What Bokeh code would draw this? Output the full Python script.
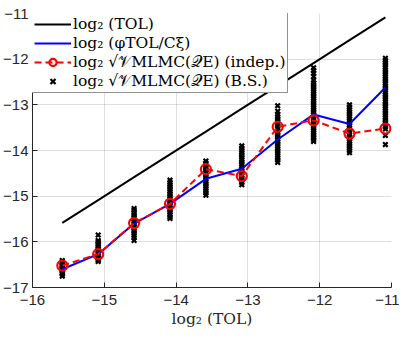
from bokeh.plotting import figure
from bokeh.models import Range1d, Legend, LegendItem, FixedTicker, ColumnDataSource
from bokeh.embed import file_html
from bokeh.resources import INLINE

# ---- data ----
log2_tol = [-15.585, -15.085, -14.585, -14.085, -13.585, -13.085, -12.585, -12.085, -11.585, -11.085]
phi_tol_over_c = [-16.60, -16.27, -15.60, -15.17, -14.62, -14.40, -13.76, -13.21, -13.42, -12.62]
var_indep = [-16.52, -16.27, -15.59, -15.17, -14.41, -14.56, -13.48, -13.34, -13.63, -13.52]

bs_0 = [-16.41, -16.44, -16.47, -16.50, -16.53, -16.56, -16.59, -16.62, -16.65, -16.68, -16.71, -16.75]
bs_1 = [-15.85, -15.97, -16.00, -16.04, -16.08, -16.12, -16.16, -16.20, -16.24, -16.28, -16.32, -16.36, -16.40, -16.43]
bs_2 = [-15.27, -15.31, -15.36, -15.41, -15.46, -15.51, -15.56, -15.61, -15.66, -15.71, -15.76, -15.81, -15.86, -15.91, -15.97]
bs_3 = [-14.65, -14.70, -14.75, -14.80, -14.85, -14.90, -14.95, -15.00, -15.05, -15.10, -15.15, -15.20, -15.25, -15.30, -15.35, -15.40, -15.45, -15.49]
bs_4 = [-14.23, -14.28, -14.33, -14.38, -14.43, -14.48, -14.53, -14.58, -14.63, -14.68, -14.73, -14.78, -14.83, -14.88, -14.93, -14.98]
bs_5 = [-13.90, -13.95, -14.00, -14.05, -14.10, -14.15, -14.20, -14.25, -14.30, -14.35, -14.40, -14.45, -14.50, -14.55, -14.60, -14.65, -14.70, -14.75]
bs_6 = [-13.02, -13.14, -13.21, -13.26, -13.31, -13.36, -13.41, -13.46, -13.51, -13.56, -13.61, -13.66, -13.71, -13.76, -13.81, -13.86, -13.91, -13.96, -14.01, -14.06, -14.11, -14.16, -14.21, -14.26]
bs_7 = [-12.19, -12.25, -12.31, -12.38, -12.46, -12.52, -12.56, -12.61, -12.66, -12.71, -12.76, -12.81, -12.86, -12.91, -12.96, -13.01, -13.06, -13.11, -13.16, -13.21, -13.26, -13.31, -13.36, -13.41, -13.46, -13.51, -13.56, -13.61, -13.66, -13.71, -13.76, -13.80]
bs_8 = [-13.00, -13.05, -13.10, -13.15, -13.20, -13.25, -13.30, -13.35, -13.40, -13.45, -13.50, -13.55, -13.60, -13.65, -13.70, -13.75, -13.80, -13.85, -13.90, -13.95, -14.00, -14.05]
bs_9 = [-11.98, -12.03, -12.08, -12.13, -12.18, -12.23, -12.28, -12.33, -12.38, -12.43, -12.48, -12.53, -12.58, -12.63, -12.68, -12.73, -12.78, -12.83, -12.88, -12.93, -12.98, -13.03, -13.08, -13.13, -13.18, -13.23, -13.28, -13.33, -13.38, -13.43, -13.48, -13.53, -13.67, -13.87]
bootstrap = [bs_0, bs_1, bs_2, bs_3, bs_4, bs_5, bs_6, bs_7, bs_8, bs_9]

x_ticks = [-16, -15, -14, -13, -12, -11]
y_ticks = [-17, -16, -15, -14, -13, -12, -11]

labels = [
    "log\u2082 (TOL)",
    "log\u2082 (\u03c6TOL/C\u03be)",
    "log\u2082 \u221a\U0001D4B1MLMC(\U0001D4ACE) (indep.)",
    "log\u2082 \u221a\U0001D4B1MLMC(\U0001D4ACE) (B.S.)",
]

bs_x, bs_y = [], []
for xv, ys in zip(log2_tol, bootstrap):
    for yv in ys:
        bs_x.append(xv)
        bs_y.append(yv)

AX = "#262626"

p = figure(width=399, height=330, output_backend="svg", toolbar_location=None,
           x_range=Range1d(-16, -11), y_range=Range1d(-17, -11),
           min_border_left=27, min_border_right=8, min_border_top=13, min_border_bottom=43)
p.outline_line_color = None
p.background_fill_color = "white"
p.border_fill_color = "white"

src_bs = ColumnDataSource(dict(x=bs_x, y=bs_y))
r_bs = p.scatter("x", "y", source=src_bs, marker="x", size=6.5, line_width=2.2, line_color="black")

r_tol = p.line(log2_tol, log2_tol, line_color="black", line_width=2)
r_phi = p.line(log2_tol, phi_tol_over_c, line_color="#0000ff", line_width=2)
r_ind_l = p.line(log2_tol, var_indep, line_color="#ff0000", line_width=2, line_dash="7 4")
r_ind_m = p.scatter(log2_tol, var_indep, marker="circle", size=10, fill_color=None,
                    line_color="#ff0000", line_width=2.2)

for ax in (p.xaxis[0], p.yaxis[0]):
    ax.axis_line_color = AX
    ax.major_tick_line_color = AX
    ax.major_tick_in = 5
    ax.major_tick_out = 0
    ax.minor_tick_line_color = None
    ax.major_label_text_color = AX
    ax.major_label_text_font = "Liberation Sans"
    ax.major_label_text_font_size = "15px"
p.yaxis.major_label_standoff = 4
p.xaxis.major_label_standoff = 7

p.xaxis.ticker = FixedTicker(ticks=x_ticks)
p.yaxis.ticker = FixedTicker(ticks=y_ticks)
p.xaxis.axis_label = "log\u2082 (TOL)"
p.xaxis.axis_label_text_font = "DejaVu Serif"
p.xaxis.axis_label_text_font_style = "normal"
p.xaxis.axis_label_text_font_size = "15.5px"
p.xaxis.axis_label_text_color = AX
p.xaxis.axis_label_standoff = 2

p.xgrid.ticker = FixedTicker(ticks=x_ticks)
p.ygrid.ticker = FixedTicker(ticks=y_ticks)
for g in (p.xgrid[0], p.ygrid[0]):
    g.grid_line_color = AX
    g.grid_line_alpha = 0.15
    g.grid_line_width = 1

legend = Legend(items=[
    LegendItem(label=labels[0], renderers=[r_tol]),
    LegendItem(label=labels[1], renderers=[r_phi]),
    LegendItem(label=labels[2], renderers=[r_ind_l, r_ind_m]),
    LegendItem(label=labels[3], renderers=[r_bs]),
], location=(-1, 194))
legend.border_line_color = AX
legend.border_line_width = 1
legend.background_fill_color = "white"
legend.background_fill_alpha = 1.0
legend.label_text_font = "DejaVu Serif"
legend.label_text_font_size = "15.5px"
legend.label_text_color = "black"
legend.glyph_width = 37
legend.glyph_height = 18
legend.label_height = 18
legend.label_standoff = 2
legend.spacing = 1
legend.padding = 2
legend.margin = 0
p.add_layout(legend)

open("out.html", "w").write(file_html(p, INLINE))
